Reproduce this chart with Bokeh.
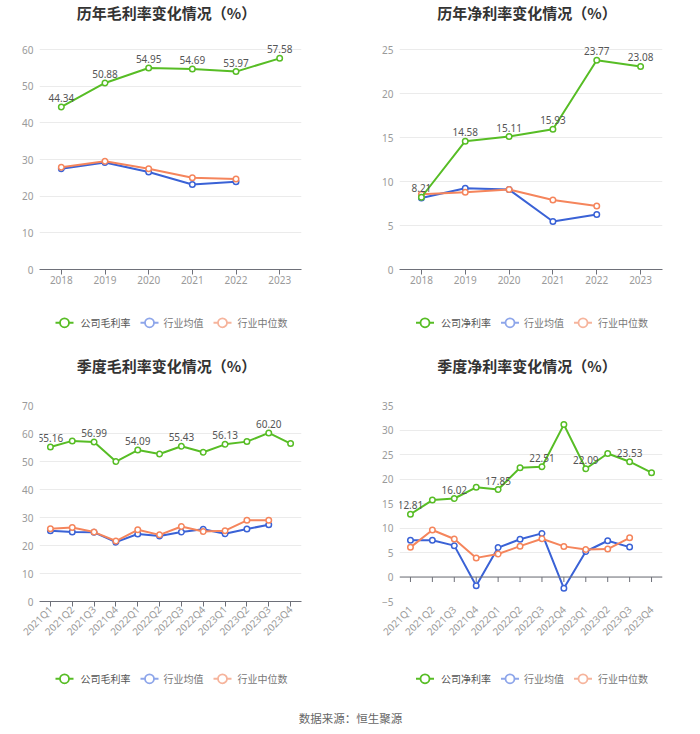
import math
from bokeh.plotting import figure
from bokeh.models import ColumnDataSource, Range1d, FactorRange, FixedTicker, Span
from bokeh.layouts import column, row
from bokeh.embed import file_html
from bokeh.resources import INLINE
from bokeh.core.properties import value

CJK = "Noto Sans CJK SC"
NUM = "Noto Sans"

# ---------------- data ----------------
years = ["2018", "2019", "2020", "2021", "2022", "2023"]
gross_company = [44.34, 50.88, 54.95, 54.69, 53.97, 57.58]
gross_avg = [27.5, 29.2, 26.6, 23.2, 23.9]
gross_median = [27.9, 29.5, 27.5, 25.0, 24.7]

net_company = [8.21, 14.58, 15.11, 15.93, 23.77, 23.08]
net_avg = [8.13, 9.23, 9.08, 5.45, 6.24]
net_median = [8.55, 8.77, 9.08, 7.90, 7.22]

quarters = ["2021Q1", "2021Q2", "2021Q3", "2021Q4",
            "2022Q1", "2022Q2", "2022Q3", "2022Q4",
            "2023Q1", "2023Q2", "2023Q3", "2023Q4"]
q_gross_company = [55.16, 57.36, 56.99, 49.96, 54.09, 52.70, 55.43, 53.30, 56.13, 57.10, 60.20, 56.40]
q_gross_avg = [25.3, 24.8, 24.7, 21.2, 24.1, 23.4, 24.8, 25.8, 24.2, 25.9, 27.4]
q_gross_median = [26.0, 26.4, 24.8, 21.6, 25.6, 23.8, 26.8, 25.0, 25.3, 29.0, 29.0]

q_net_company = [12.81, 15.70, 16.02, 18.30, 17.85, 22.30, 22.51, 31.10, 22.09, 25.20, 23.53, 21.30]
q_net_avg = [7.5, 7.5, 6.4, -1.8, 6.0, 7.7, 8.9, -2.3, 5.2, 7.4, 6.1]
q_net_median = [6.05, 9.6, 7.75, 3.9, 4.7, 6.3, 7.8, 6.25, 5.6, 5.7, 8.0]

annual_label_idx = [0, 1, 2, 3, 4, 5]
quarter_label_idx = [0, 2, 4, 6, 8, 10]

titles = ["历年毛利率变化情况（%）", "历年净利率变化情况（%）",
          "季度毛利率变化情况（%）", "季度净利率变化情况（%）"]
series_names = ["行业均值", "行业中位数"]
footer_text = "数据来源：恒生聚源"

GREEN = "#57bd25"
BLUE = "#3a62d6"
ORANGE = "#f5855c"
LEG_BLUE = "#8ea6ea"
LEG_ORANGE = "#f6b49c"


def blank(width, height, x0=None, x1=None):
    # inside a column the frame of this figure is aligned with the plot frame below,
    # so its x range is given in the panel's pixel coordinates of that frame
    if x0 is None:
        x0, x1 = 0, width
    f = figure(width=width, height=height, x_range=Range1d(x0, x1), y_range=Range1d(0, height),
               x_axis_type=None, y_axis_type=None,
               output_backend="svg", toolbar_location=None, min_border=0)
    f.grid.visible = False
    f.outline_line_color = None
    return f


def title_fig(text, width, height, bl, br, cx, cy_from_top):
    f = blank(width, height, bl, width - br)
    f.text(x=[cx - 4], y=[height - cy_from_top], text=[text], text_align="center",
           text_baseline="middle", text_font=value(CJK), text_font_size="15px",
           text_font_style="bold", text_color="#333333")
    return f


def legend_fig(company_name, width, height, bl, br, cx, cy_from_top):
    f = blank(width, height, bl, width - br)
    y = height - cy_from_top
    icon_x = [cx - 106, cx - 21, cx + 52]
    text_x = [cx - 90, cx - 7, cx + 67]
    cols = [GREEN, LEG_BLUE, LEG_ORANGE]
    names = [company_name] + series_names
    txt_cols = ["#555555", "#777777", "#777777"]
    for ix, tx, c, nm, tc in zip(icon_x, text_x, cols, names, txt_cols):
        f.segment(x0=[ix - 9], x1=[ix + 9], y0=[y], y1=[y], line_color=c, line_width=2)
        f.scatter(x=[ix], y=[y], marker="circle", size=9, fill_color="white", line_color=c,
                  line_width=1.8)
        f.text(x=[tx], y=[y], text=[nm], text_align="left", text_baseline="middle",
               text_font=value(CJK), text_font_size="10px", text_color=tc)
    return f


def plot_fig(cats, company, avg, median, label_idx, y_start, y_end, y_step, rotate,
             width, height, bl, br, bt, bb, pad):
    frame_h = height - bt - bb          # height between the lowest and highest tick
    y_top = y_end + pad * (y_end - y_start) / frame_h
    p = figure(width=width, height=height + pad, x_range=FactorRange(*cats, range_padding=0),
               y_range=Range1d(y_start, y_top), output_backend="svg", toolbar_location=None,
               min_border_left=bl, min_border_right=br, min_border_top=bt,
               min_border_bottom=bb)
    p.outline_line_color = None
    p.xgrid.grid_line_color = None
    p.ygrid.grid_line_color = "#ebebeb"

    ticks = []
    t = y_start
    while t <= y_end + 1e-9:
        ticks.append(t)
        t += y_step
    p.yaxis.ticker = FixedTicker(ticks=ticks)
    p.yaxis.axis_line_color = None
    p.yaxis.major_tick_line_color = None
    p.yaxis.minor_tick_line_color = None
    p.yaxis.major_tick_out = 0
    p.yaxis.major_tick_in = 0
    p.yaxis.minor_tick_out = 0
    p.yaxis.minor_tick_in = 0
    p.yaxis.major_label_text_color = "#9a9a9a"
    p.yaxis.major_label_text_font = NUM
    p.yaxis.major_label_text_font_size = "10px"
    p.yaxis.major_label_standoff = 6

    p.xaxis.major_label_text_color = "#9a9a9a"
    p.xaxis.major_label_text_font = NUM
    p.xaxis.major_label_text_font_size = "10px"
    p.xaxis.major_tick_in = 0
    p.xaxis.major_tick_out = 5
    p.xaxis.major_tick_line_color = "#6e7079"
    p.xaxis.axis_line_color = "#6e7079"
    p.xaxis.major_label_standoff = 1

    if y_start < 0:
        p.xaxis.axis_line_color = None
        p.xaxis.major_tick_line_color = None
        p.add_layout(Span(location=0, dimension="width", line_color="#6e7079", line_width=1))
        tick_len = 5 * (y_end - y_start) / frame_h
        p.segment(x0=cats, x1=cats, y0=[0] * len(cats), y1=[-tick_len] * len(cats),
                  line_color="#6e7079", line_width=1)

    if rotate:
        p.xaxis.major_label_orientation = math.pi / 4

    n = len(avg)
    src_c = ColumnDataSource(dict(x=cats, y=company))
    src_a = ColumnDataSource(dict(x=cats[:n], y=avg))
    src_m = ColumnDataSource(dict(x=cats[:n], y=median))
    for src, col in ((src_a, BLUE), (src_m, ORANGE), (src_c, GREEN)):
        p.line("x", "y", source=src, line_color=col, line_width=2)
        p.scatter("x", "y", source=src, marker="circle", size=5.5, fill_color="white",
                  line_color=col, line_width=1.5)

    lab = ColumnDataSource(dict(x=[cats[i] for i in label_idx],
                                y=[company[i] for i in label_idx],
                                t=["%.2f" % company[i] for i in label_idx]))
    p.text("x", "y", text="t", source=lab, text_align="center", text_baseline="bottom",
           y_offset=-5, text_font=value(NUM), text_font_size="10px", text_color="#555555")
    return p


def panel(title, cats, company, avg, median, label_idx, y0, y1, ystep, cname, rotate,
          width, bl, br, top_row):
    cx = bl + (width - bl - br) / 2.0
    if top_row:
        # rows: title 0..30, plot 30..299 (ticks 49..269), legend 299..350
        t = title_fig(title, width, 30, bl, br, cx, 11.5)
        pad = 15
        p = plot_fig(cats, company, avg, median, label_idx, y0, y1, ystep, rotate,
                     width, 269 - pad, bl, br, 19 - pad, 30, pad)
        lg = legend_fig(cname, width, 51, bl, br, cx, 23.3)
    else:
        # rows: title 350..382, plot 382..651 (ticks 405..601), legend 651..700
        t = title_fig(title, width, 32, bl, br, cx, 15)
        p = plot_fig(cats, company, avg, median, label_idx, y0, y1, ystep, rotate,
                     width, 269, bl, br, 23, 50, 0)
        lg = legend_fig(cname, width, 49, bl, br, cx, 27.3)
    return column(t, p, lg, spacing=0)


c1 = panel(titles[0], years, gross_company, gross_avg, gross_median, annual_label_idx,
           0, 60, 10, "公司毛利率", False, 350, 39, 49, True)
c2 = panel(titles[1], years, net_company, net_avg, net_median, annual_label_idx,
           0, 25, 5, "公司净利率", False, 348, 49, 36, True)
c3 = panel(titles[2], quarters, q_gross_company, q_gross_avg, q_gross_median, quarter_label_idx,
           0, 70, 10, "公司毛利率", True, 350, 39, 49, False)
c4 = panel(titles[3], quarters, q_net_company, q_net_avg, q_net_median, quarter_label_idx,
           -5, 35, 5, "公司净利率", True, 348, 49, 36, False)

foot = blank(698, 32)
foot.text(x=[350], y=[15], text=[footer_text], text_align="center", text_baseline="middle",
          text_font=value(CJK), text_font_size="11.5px", text_color="#666666")

layout = column(row(c1, c2, spacing=0), row(c3, c4, spacing=0), foot, spacing=0)
open("out.html", "w").write(file_html(layout, INLINE))
